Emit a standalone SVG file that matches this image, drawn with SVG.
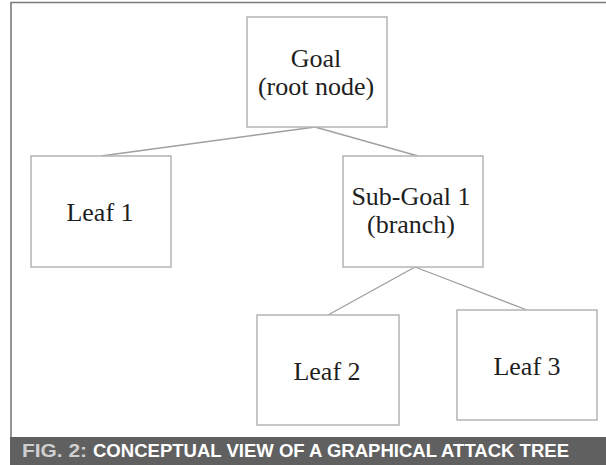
<svg xmlns="http://www.w3.org/2000/svg" width="606" height="465" viewBox="0 0 606 465">
<style>
.box{fill:#fff;stroke:#b4b4b4;stroke-width:1.5}
.lbl{font-family:"Liberation Serif","Times New Roman",serif;font-size:26px;fill:#1e1e1e;text-anchor:middle}
.con{stroke:#a0a0a0;stroke-width:1.3;fill:none}
.cap{font-family:"Liberation Sans Narrow","Liberation Sans",Arial,sans-serif;font-weight:bold;font-size:19px}
</style>
<rect x="0" y="0" width="606" height="465" fill="#fff"/>
<path d="M11 465 V2.5 H606" fill="none" stroke="#7a7a7a" stroke-width="1.6"/>
<g id="connectors">
<line class="con" x1="315" y1="127" x2="101" y2="156"/>
<line class="con" x1="315" y1="127" x2="418" y2="156"/>
<line class="con" x1="415" y1="267" x2="328" y2="315"/>
<line class="con" x1="415" y1="267" x2="527" y2="310"/>
</g>
<g id="goal">
<rect class="box" x="247" y="17" width="140" height="110"/>
<text class="lbl" x="316" y="67">Goal</text>
<text class="lbl" x="316" y="95">(root node)</text>
</g>
<g id="leaf1">
<rect class="box" x="31" y="156" width="140" height="111"/>
<text class="lbl" x="100" y="221">Leaf 1</text>
</g>
<g id="subgoal1">
<rect class="box" x="343" y="156" width="140" height="111"/>
<text class="lbl" x="411" y="205">Sub-Goal 1</text>
<text class="lbl" x="411" y="233">(branch)</text>
</g>
<g id="leaf2">
<rect class="box" x="257" y="315" width="142" height="110"/>
<text class="lbl" x="327" y="380">Leaf 2</text>
</g>
<g id="leaf3">
<rect class="box" x="457" y="310" width="140" height="110"/>
<text class="lbl" x="527" y="375">Leaf 3</text>
</g>
<g id="caption">
<rect x="10" y="437" width="596" height="28" fill="#606060"/>
<text class="cap" x="22" y="457" fill="#cfcfcf" textLength="65" lengthAdjust="spacingAndGlyphs">FIG. 2:</text>
<text class="cap" x="93" y="457" fill="#fff" textLength="476" lengthAdjust="spacingAndGlyphs">CONCEPTUAL VIEW OF A GRAPHICAL ATTACK TREE</text>
</g>
</svg>
